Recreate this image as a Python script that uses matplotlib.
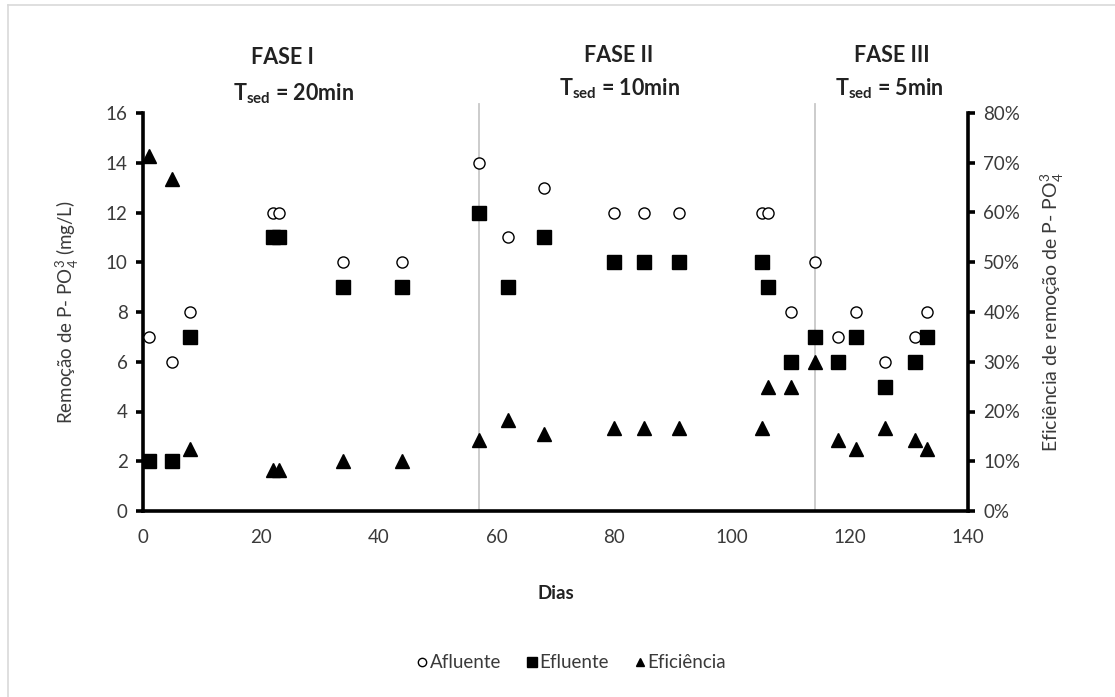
import matplotlib
matplotlib.use("Agg")
import matplotlib.pyplot as plt
from matplotlib.lines import Line2D
from matplotlib.ticker import FuncFormatter, MultipleLocator

plt.rcParams['font.family'] = ['Lato', 'DejaVu Sans']
plt.rcParams['mathtext.fontset'] = 'custom'
plt.rcParams['mathtext.rm'] = 'Lato'
plt.rcParams['mathtext.bf'] = 'Lato:bold'

# ---- data ----
dias_afl = [1, 5, 8, 22, 23, 34, 44, 57, 62, 68, 80, 85, 91, 105, 106, 110, 114, 118, 121, 126, 131, 133]
afluente = [7, 6, 8, 12, 12, 10, 10, 14, 11, 13, 12, 12, 12, 12, 12, 8, 10, 7, 8, 6, 7, 8]
efluente = [2, 2, 7, 11, 11, 9, 9, 12, 9, 11, 10, 10, 10, 10, 9, 6, 7, 6, 7, 5, 6, 7]
eficiencia = [71.4, 66.7, 12.5, 8.3, 8.3, 10.0, 10.0, 14.3, 18.2, 15.4, 16.7, 16.7, 16.7,
              16.7, 25.0, 25.0, 30.0, 14.3, 12.5, 16.7, 14.3, 12.5]
fase_limites = [57, 114]
fase_nomes = ["FASE I", "FASE II", "FASE III"]
fase_tsed = ["20min", "10min", "5min"]
x_ticks = [0, 20, 40, 60, 80, 100, 120, 140]

W, H = 1115, 697
fig = plt.figure(figsize=(W / 100, H / 100), dpi=100)
ax = fig.add_axes([143 / W, 1 - 511 / H, (968 - 143) / W, (511 - 113) / H])
ax2 = ax.twinx()

txtc = '#3a3a3a'
for xl in fase_limites:
    ax.plot([xl, xl], [0, 16.35], color='#c8c8c8', lw=1.3, clip_on=False, zorder=1)

ax.plot(dias_afl, afluente, linestyle='none', marker='o', ms=8, mfc='white', mec='black', mew=1.0, zorder=3)
ax.plot(dias_afl, efluente, linestyle='none', marker='s', ms=10, mfc='black', mec='black', zorder=3)
ax2.plot(dias_afl, eficiencia, linestyle='none', marker='^', ms=10, mfc='black', mec='black', zorder=3)

ax.set_xlim(0, 140)
ax.set_ylim(0, 16)
ax2.set_ylim(0, 80)
ax.set_xticks(x_ticks)
ax.yaxis.set_major_locator(MultipleLocator(2))
ax2.yaxis.set_major_locator(MultipleLocator(10))
ax2.yaxis.set_major_formatter(FuncFormatter(lambda v, p: f"{v:.0f}%"))

for a in (ax, ax2):
    a.spines['top'].set_visible(False)
    a.patch.set_visible(False)
ax.spines['right'].set_visible(False)
ax2.spines['left'].set_visible(False)
ax2.spines['bottom'].set_visible(False)
for s in ('left', 'bottom'):
    ax.spines[s].set_linewidth(2.6)
ax2.spines['right'].set_linewidth(2.6)

fs = 13.5
ax.tick_params(axis='x', length=0, pad=13, labelsize=fs, labelcolor=txtc)
ax.tick_params(axis='y', length=5, width=2.6, direction='out', pad=6, labelsize=fs, labelcolor=txtc)
ax2.tick_params(axis='y', length=5, width=2.6, direction='out', pad=6, labelsize=fs, labelcolor=txtc)

ax.set_xlabel("Dias", fontsize=13.5, fontweight='bold', color='#222222', labelpad=28)
ax.set_ylabel(r"Remoção de P- PO$_4^3$ (mg/L)", fontsize=13.5, color=txtc, labelpad=18)
ax2.set_ylabel(r"Eficiência de remoção de P- PO$_4^3$", fontsize=14, color=txtc, labelpad=13)

# phase labels
fx1 = [282, 619, 892]
ty1 = [58, 56, 56]
fx2 = [294, 620, 889]
ty2 = [94, 89, 89]
for i in range(3):
    fig.text(fx1[i] / W, 1 - ty1[i] / H, fase_nomes[i], fontsize=15.5, fontweight='bold',
             ha='center', va='center', color='#222222')
    fig.text(fx2[i] / W, 1 - ty2[i] / H, r"T$_{\mathbf{sed}}$ = " + fase_tsed[i], fontsize=15.5,
             fontweight='bold', ha='center', va='center', color='#222222')

handles = [
    Line2D([], [], linestyle='none', marker='o', ms=6, mfc='white', mec='black', mew=1.0),
    Line2D([], [], linestyle='none', marker='s', ms=7, mfc='black', mec='black'),
    Line2D([], [], linestyle='none', marker='^', ms=6, mfc='black', mec='black'),
]
fig.legend(handles, ["Afluente", "Efluente", "Eficiência"], loc='center',
           bbox_to_anchor=(572 / W, 1 - 663 / H), ncol=3, frameon=False, fontsize=13.5,
           handlelength=0.5, handletextpad=0.15, columnspacing=1.4, labelcolor=txtc)

# chart border (top and left visible)
fig.add_artist(Line2D([8 / W, 1], [1 - 5 / H, 1 - 5 / H], color='#d9d9d9', lw=1.2))
fig.add_artist(Line2D([8 / W, 8 / W], [0, 1 - 5 / H], color='#d9d9d9', lw=1.2))

fig.savefig("out.png", dpi=100, facecolor='white')
